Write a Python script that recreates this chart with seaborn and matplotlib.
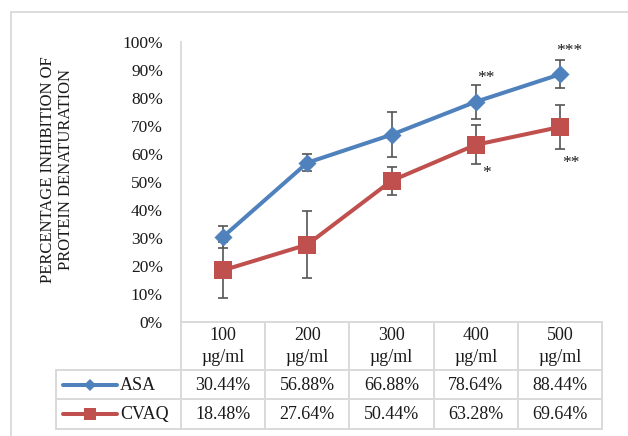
import numpy as np
import pandas as pd
import matplotlib
matplotlib.use("Agg")
import matplotlib.pyplot as plt
import matplotlib.transforms as mtransforms
from matplotlib.lines import Line2D
from matplotlib.patches import Rectangle
import seaborn as sns

# data
doses = ["100", "200", "300", "400", "500"]
unit = "µg/ml"
series_names = ["ASA", "CVAQ"]
asa = [30.44, 56.88, 66.88, 78.64, 88.44]
cvaq = [18.48, 27.64, 50.44, 63.28, 69.64]
asa_err = [4, 3, 8, 6, 5]
cvaq_err = [10, 12, 5, 7, 8]
asa_sig = ["", "", "", "**", "***"]
cvaq_sig = ["", "", "", "*", "**"]

# style
sns.set_style("white")
plt.rcParams["font.family"] = ["Liberation Serif", "DejaVu Serif"]
plt.rcParams["font.size"] = 12
COLORS = {"ASA": "#4F81BD", "CVAQ": "#C0504D"}
MARKERS = {"ASA": "D", "CVAQ": "s"}
GRID = "#D9D9D9"
TXT = "#1A1A1A"
ERR = "#555555"
FS_TABLE = 13

W, H = 628, 436
fig = plt.figure(figsize=(W / 100, H / 100), dpi=100)


def fx(px):
    return px / W


def fy(py):
    return 1 - py / H


ax = fig.add_axes([fx(181), fy(322), fx(602) - fx(181), fy(42) - fy(322)])

df = pd.DataFrame({
    "x": list(range(len(doses))) * 2,
    "value": asa + cvaq,
    "series": ["ASA"] * len(doses) + ["CVAQ"] * len(doses),
})

xs = np.arange(len(doses))
for vals, errs in [(asa, asa_err), (cvaq, cvaq_err)]:
    ax.errorbar(xs, vals, yerr=errs, fmt="none", ecolor=ERR, elinewidth=1.2,
                capsize=3.9, capthick=1.2, zorder=2)

sns.lineplot(data=df, x="x", y="value", hue="series", style="series",
             palette=COLORS, markers=MARKERS, dashes=False, linewidth=2.9,
             markersize=0, legend=False, ax=ax, zorder=3)
# markers drawn with seaborn scatter for size control
sns.scatterplot(data=df[df.series == "ASA"], x="x", y="value", color=COLORS["ASA"],
                marker="D", s=85, linewidth=0, legend=False, ax=ax, zorder=4)
sns.scatterplot(data=df[df.series == "CVAQ"], x="x", y="value", color=COLORS["CVAQ"],
                marker="s", s=160, linewidth=0, legend=False, ax=ax, zorder=4)

# significance stars
for i, s in enumerate(asa_sig):
    if s:
        ax.annotate(s, (xs[i], asa[i]), xytext=(7, 17), textcoords="offset points",
                    ha="center", va="center", color=TXT, fontsize=12.5)
for i, s in enumerate(cvaq_sig):
    if s:
        ax.annotate(s, (xs[i], cvaq[i]), xytext=(8, -20.5 if len(s) == 1 else -26),
                    textcoords="offset points", ha="center", va="center",
                    color=TXT, fontsize=12.5)

ax.set_xlim(-0.5, len(doses) - 0.5)
ax.set_ylim(0, 100)
ax.set_yticks(range(0, 101, 10))
ax.set_yticklabels([f"{v}%" for v in range(0, 101, 10)])
ax.tick_params(axis="y", length=0, pad=13, labelsize=12.5, labelcolor=TXT)
ax.set_xticks([])
ax.set_xlabel("")
ax.set_ylabel("")
for side in ["top", "right", "bottom"]:
    ax.spines[side].set_visible(False)
ax.spines["left"].set_color(GRID)
ax.spines["left"].set_linewidth(1.3)

ax.text(fx(57), fy(170), "PERCENTAGE INHIBITION OF\nPROTEIN DENATURATION",
        transform=fig.transFigure, rotation=90, ha="center", va="center",
        multialignment="center", fontsize=12, color=TXT, linespacing=1.15)

# data table below the axes
tr = mtransforms.blended_transform_factory(ax.transData, fig.transFigure)
row_lines = [322, 370, 399, 429]
col_edges = np.arange(len(doses) + 1) - 0.5


def hline(y, x0, x1):
    fig.add_artist(Line2D([fx(x0), fx(x1)], [fy(y), fy(y)], color=GRID, lw=1.4))


def vline(x, y0, y1):
    fig.add_artist(Line2D([fx(x), fx(x)], [fy(y0), fy(y1)], color=GRID, lw=1.4))


hline(row_lines[0], 181, 602)
for y in row_lines[1:]:
    hline(y, 56, 602)
for c in col_edges:
    xd = ax.transData.transform((c, 0))[0]
    vline(xd, row_lines[0], row_lines[-1])
vline(56, row_lines[1], row_lines[-1])

for i, d in enumerate(doses):
    ax.text(i, fy(335), d, transform=tr, ha="center", va="center", color=TXT,
            fontsize=FS_TABLE)
    ax.text(i, fy(357), unit, transform=tr, ha="center", va="center", color=TXT,
            fontsize=FS_TABLE)

for name, vals, ry in [("ASA", asa, 385), ("CVAQ", cvaq, 414)]:
    for i, v in enumerate(vals):
        ax.text(i, fy(ry), f"{v:.2f}%", transform=tr, ha="center", va="center",
                color=TXT, fontsize=FS_TABLE)
    fig.add_artist(Line2D([fx(63), fx(117)], [fy(ry), fy(ry)], color=COLORS[name],
                          lw=2.9, marker=None))
    fig.add_artist(Line2D([fx(90)], [fy(ry)], color=COLORS[name], lw=0,
                          marker=MARKERS[name], markersize=6 if name == "ASA" else 8.5,
                          markeredgewidth=0))
    fig.text(fx(120), fy(ry), name, ha="left", va="center", color=TXT, fontsize=FS_TABLE)

# outer chart border (cropped on right/bottom)
fig.add_artist(Rectangle((fx(11), fy(460)), fx(660) - fx(11), fy(12) - fy(460),
                         transform=fig.transFigure, fill=False, edgecolor=GRID, lw=1.3))

fig.savefig("out.png", dpi=100)
